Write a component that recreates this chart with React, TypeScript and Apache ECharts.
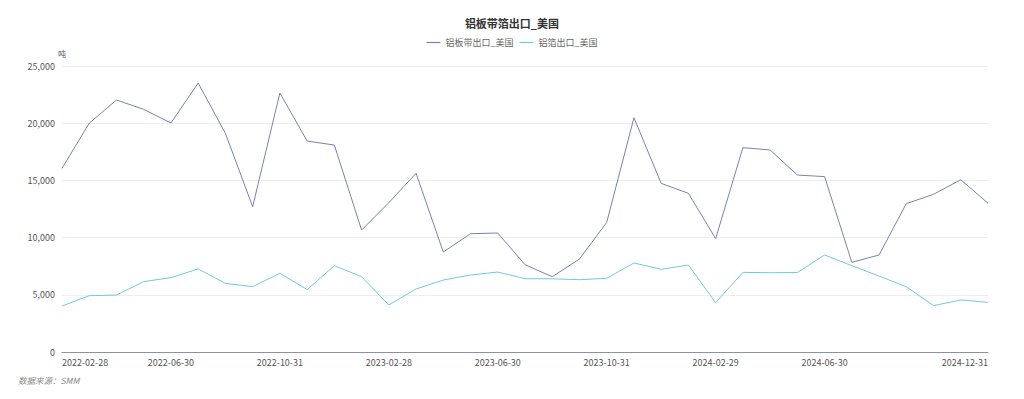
import React, { useEffect, useRef } from "react";
import * as echarts from "echarts";

const categories = [
  "2022-02-28","2022-03-31","2022-04-30","2022-05-31","2022-06-30","2022-07-31","2022-08-31","2022-09-30","2022-10-31","2022-11-30","2022-12-31",
  "2023-01-31","2023-02-28","2023-03-31","2023-04-30","2023-05-31","2023-06-30","2023-07-31","2023-08-31","2023-09-30","2023-10-31","2023-11-30","2023-12-31",
  "2024-01-31","2024-02-29","2024-03-31","2024-04-30","2024-05-31","2024-06-30","2024-07-31","2024-08-31","2024-09-30","2024-10-31","2024-11-30","2024-12-31",
];

const plateStrip = [
  16050, 20000, 22030, 21210, 20020, 23510, 19110, 12700, 22640, 18440, 18090,
  10660, 13050, 15620, 8740, 10340, 10400, 7630, 6580, 8130, 11330, 20480, 14740,
  13870, 9910, 17860, 17660, 15470, 15330, 7840, 8480, 12970, 13780, 15060, 13000,
];

const foil = [
  4020, 4920, 4980, 6150, 6500, 7260, 6000, 5710, 6880, 5450, 7550,
  6580, 4110, 5510, 6290, 6730, 6990, 6410, 6400, 6320, 6440, 7780, 7230,
  7600, 4310, 6960, 6930, 6950, 8480, 7550, 6640, 5710, 4050, 4550, 4340,
];

const seriesNames = ["铝板带出口_美国", "铝箔出口_美国"];
const title = "铝板带箔出口_美国";
const unit = "吨";
const source = "数据来源：SMM";

export default function App() {
  const ref = useRef<HTMLDivElement>(null);
  useEffect(() => {
    if (!ref.current) return;
    const chart = echarts.init(ref.current, undefined, { renderer: "svg" });
    const font = "'Microsoft YaHei', 'Noto Sans CJK SC', sans-serif";
    chart.setOption({
      animation: false,
      textStyle: { fontFamily: font },
      title: {
        text: title,
        left: "center",
        top: 12,
        textStyle: { fontSize: 11, fontWeight: "bold", color: "#333", fontFamily: font },
      },
      legend: {
        top: 33,
        left: "center",
        itemWidth: 14,
        itemHeight: 6,
        itemGap: 6,
        icon: "path://M0,2.4 L14,2.4 L14,3.6 L0,3.6 Z",
        textStyle: { fontSize: 9, color: "#666", fontFamily: font },
        data: seriesNames,
      },
      graphic: [
        {
          type: "text",
          left: 18,
          top: 376,
          style: {
            text: source,
            fontSize: 8.5,
            fontStyle: "italic",
            fill: "#888",
            fontFamily: font,
          },
        },
      ],
      grid: { left: 62, right: 36, top: 66, bottom: 47, containLabel: false },
      xAxis: {
        type: "category",
        boundaryGap: false,
        data: categories,
        axisLine: { lineStyle: { color: "#8c92a4", width: 1 } },
        axisTick: { show: false },
        axisLabel: {
          color: "#555",
          fontSize: 9,
          margin: 6,
          interval: (i: number) => (i % 4 === 0 && i !== 32) || i === categories.length - 1,
          alignMinLabel: "left",
          alignMaxLabel: "right",
          showMinLabel: true,
          showMaxLabel: true,
        },
      },
      yAxis: {
        type: "value",
        name: unit,
        nameLocation: "end",
        nameGap: 9,
        nameTextStyle: { color: "#555", fontSize: 8, align: "center" },
        min: 0,
        max: 25000,
        interval: 5000,
        axisLine: { show: false },
        axisTick: { show: false },
        axisLabel: {
          color: "#555",
          fontSize: 9,
          margin: 7,
          formatter: (v: number) => v.toLocaleString("en-US"),
        },
        splitLine: { lineStyle: { color: "#eeeeee", width: 1 } },
      },
      series: [
        {
          name: seriesNames[0],
          type: "line",
          data: plateStrip,
          symbol: "none",
          lineStyle: { color: "#7b7fb8", width: 1 },
          itemStyle: { color: "#7b7fb8" },
        },
        {
          name: seriesNames[1],
          type: "line",
          data: foil,
          symbol: "none",
          lineStyle: { color: "#6fcadc", width: 1 },
          itemStyle: { color: "#6fcadc" },
        },
      ],
    });
    return () => chart.dispose();
  }, []);
  return <div ref={ref} style={{ width: 1024, height: 399, position: "absolute", left: 0, top: 0 }} />;
}
